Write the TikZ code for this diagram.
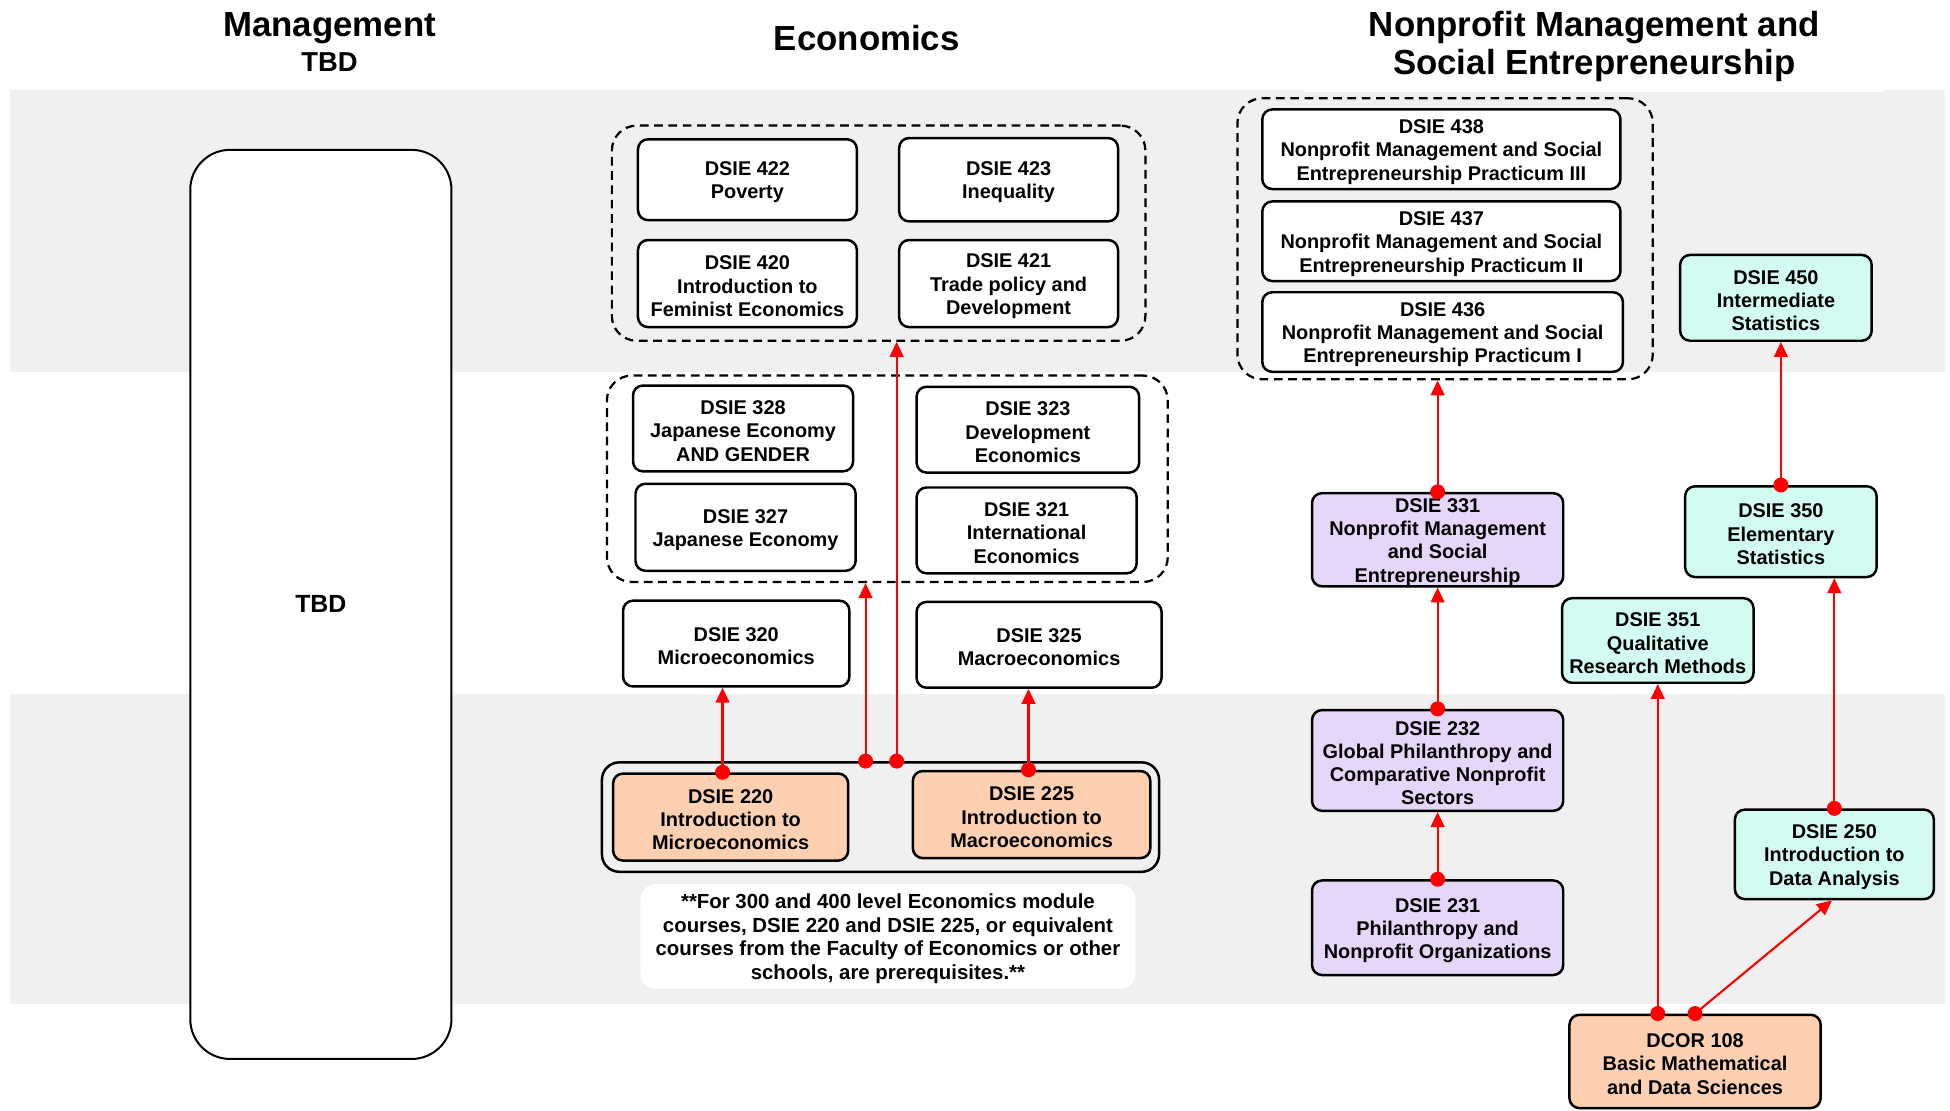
\documentclass[tikz,border=0pt]{standalone}
\usepackage{fontspec}
\setmainfont{Liberation Sans}
\usetikzlibrary{arrows.meta,positioning,calc}

\definecolor{bandgray}{HTML}{F0F0F0}
\definecolor{peach}{HTML}{FCD0B0}
\definecolor{lavender}{HTML}{E6D6FA}
\definecolor{mint}{HTML}{D2FCF2}

\newcommand{\boxfont}{\fontsize{16}{18.7}\selectfont\bfseries}
\newcommand{\notefont}{\fontsize{16.4}{19}\selectfont\bfseries}
\newcommand{\headfont}{\fontsize{28}{31}\selectfont\bfseries}
\newcommand{\capline}{\rule{0pt}{15.5pt}}

\begin{document}
\begin{tikzpicture}[x=1pt,y=-1pt,
  course/.style={draw, line width=2pt, rounded corners=8pt, fill=white, align=center, font=\boxfont, inner sep=0pt},
  group/.style={draw, line width=1.8pt, dash pattern=on 7pt off 4.5pt, rounded corners=20pt, inner sep=0pt},
  prereq/.style={red, line width=1.7pt, {Circle[length=12pt]}-{Triangle[length=12pt,width=11pt]}, shorten <=-6pt}]
\useasboundingbox (0,0) rectangle (1568,893);
\fill[white] (0,0) rectangle (1568,893);

% Year bands
\fill[bandgray] (8,72) rectangle (1564,299);
\fill[bandgray] (8,558) rectangle (1564,807);

% Headings
\node[font=\headfont] (hMgmt) at (265,23) {Management};
\node[font=\fontsize{22}{24}\selectfont\bfseries] (hMgmtSub) at (265,50) {TBD};
\node[font=\headfont] (hEcon) at (697,31) {Economics};
\fill[white] (1048,0) rectangle (1516,74);
\node[font=\headfont, align=center] (hNpo) at (1282,37.5) {Nonprofit Management and\\Social Entrepreneurship};

% Management
\node[draw, line width=1.6pt, rounded corners=32pt, fill=white, minimum width=210pt, minimum height=731pt,
  font=\fontsize{20}{22}\selectfont\bfseries] (mgmt) at (258,486) {TBD};

% Economics
\node[group, minimum width=429pt, minimum height=173pt] (grpE4) at (706.5,187.5) {};
\node[course, minimum width=176pt, minimum height=65pt] (d422) at (601,144.5) {\capline DSIE 422\\Poverty};
\node[course, minimum width=176pt, minimum height=67pt] (d423) at (811,144.5) {\capline DSIE 423\\Inequality};
\node[course, minimum width=176pt, minimum height=70pt] (d420) at (601,228) {\capline DSIE 420\\Introduction to\\Feminist Economics};
\node[course, minimum width=176pt, minimum height=70pt] (d421) at (811,228) {\capline DSIE 421\\Trade policy and\\Development};

\node[group, minimum width=451pt, minimum height=166pt] (grpE3) at (713.5,385) {};
\node[course, minimum width=177pt, minimum height=69pt] (d328) at (597.5,344.5) {\capline DSIE 328\\Japanese Economy\\AND GENDER};
\node[course, minimum width=179pt, minimum height=69pt] (d323) at (826.5,345.5) {\capline DSIE 323\\Development\\Economics};
\node[course, minimum width=177pt, minimum height=70pt] (d327) at (599.5,424) {\capline DSIE 327\\Japanese Economy};
\node[course, minimum width=177pt, minimum height=69pt] (d321) at (825.5,426.5) {\capline DSIE 321\\International\\Economics};

\node[course, minimum width=182pt, minimum height=69pt] (d320) at (592,517.5) {\capline DSIE 320\\Microeconomics};
\node[course, minimum width=197pt, minimum height=69pt] (d325) at (835.5,518.5) {\capline DSIE 325\\Macroeconomics};

\node[draw, line width=2pt, rounded corners=14pt, fill=bandgray, minimum width=448pt, minimum height=88pt] (grpE2) at (708,657) {};
\node[course, fill=peach, minimum width=189pt, minimum height=70pt] (d220) at (587.5,657) {\capline DSIE 220\\Introduction to\\Microeconomics};
\node[course, fill=peach, minimum width=191pt, minimum height=70pt] (d225) at (829.5,655) {\capline DSIE 225\\Introduction to\\Macroeconomics};

\node[fill=white, rounded corners=12pt, align=center, font=\notefont, minimum width=398pt, minimum height=84pt] (note) at (714,753)
  {\capline **For 300 and 400 level Economics module\\courses, DSIE 220 and DSIE 225, or equivalent\\courses from the Faculty of Economics or other\\schools, are prerequisites.**};

% Nonprofit management
\node[group, minimum width=334pt, minimum height=226pt] (grpN4) at (1162,192) {};
\node[course, minimum width=288pt, minimum height=64pt] (d438) at (1159,120) {\capline DSIE 438\\Nonprofit Management and Social\\Entrepreneurship Practicum III};
\node[course, minimum width=288pt, minimum height=64pt] (d437) at (1159,194) {\capline DSIE 437\\Nonprofit Management and Social\\Entrepreneurship Practicum II};
\node[course, minimum width=290pt, minimum height=64pt] (d436) at (1160,267) {\capline DSIE 436\\Nonprofit Management and Social\\Entrepreneurship Practicum I};

\node[course, fill=lavender, minimum width=202pt, minimum height=74pt] (d331) at (1156,434) {\capline DSIE 331\\Nonprofit Management\\and Social\\Entrepreneurship};
\node[course, fill=lavender, minimum width=202pt, minimum height=81pt] (d232) at (1156,611.5) {\capline DSIE 232\\Global Philanthropy and\\Comparative Nonprofit\\Sectors};
\node[course, fill=lavender, minimum width=202pt, minimum height=76pt] (d231) at (1156,746) {\capline DSIE 231\\Philanthropy and\\Nonprofit Organizations};

\node[course, fill=mint, minimum width=154pt, minimum height=69pt] (d450) at (1428,239.5) {\capline DSIE 450\\Intermediate\\Statistics};
\node[course, fill=mint, minimum width=154pt, minimum height=73pt] (d350) at (1432,427.5) {\capline DSIE 350\\Elementary\\Statistics};
\node[course, fill=mint, minimum width=154pt, minimum height=68pt] (d351) at (1333,515) {\capline DSIE 351\\Qualitative\\Research Methods};
\node[course, fill=mint, minimum width=160pt, minimum height=72pt] (d250) at (1475,687) {\capline DSIE 250\\Introduction to\\Data Analysis};
\node[course, fill=peach, minimum width=202pt, minimum height=75pt] (dcor108) at (1363,853.5) {\capline DCOR 108\\Basic Mathematical\\and Data Sciences};

% Prerequisites
\draw[prereq] ([xshift=-6.5pt]d220.north) -- ([xshift=-6.5pt]d220.north |- d320.south);
\draw[prereq] ([xshift=-12pt]grpE2.north) -- ([xshift=-12pt]grpE2.north |- grpE3.south);
\draw[prereq] ([xshift=13pt]grpE2.north) -- ([xshift=13pt]grpE2.north |- grpE4.south);
\draw[prereq] ([xshift=-2.5pt]d225.north) -- ([xshift=-2.5pt]d225.north |- d325.south);

\draw[prereq] (d331.north) -- (d331.north |- grpN4.south);
\draw[prereq] (d232.north) -- (d232.north |- d331.south);
\draw[prereq] (d231.north) -- (d231.north |- d232.south);
\draw[prereq] (d350.north) -- (d350.north |- d450.south);
\draw[prereq] (d250.north) -- (d250.north |- d350.south);
\draw[prereq] ([xshift=-30pt]dcor108.north) -- ([xshift=-30pt]dcor108.north |- d351.south);
\draw[prereq] (dcor108.north) -- ([xshift=-2pt]d250.south);
\end{tikzpicture}
\end{document}
